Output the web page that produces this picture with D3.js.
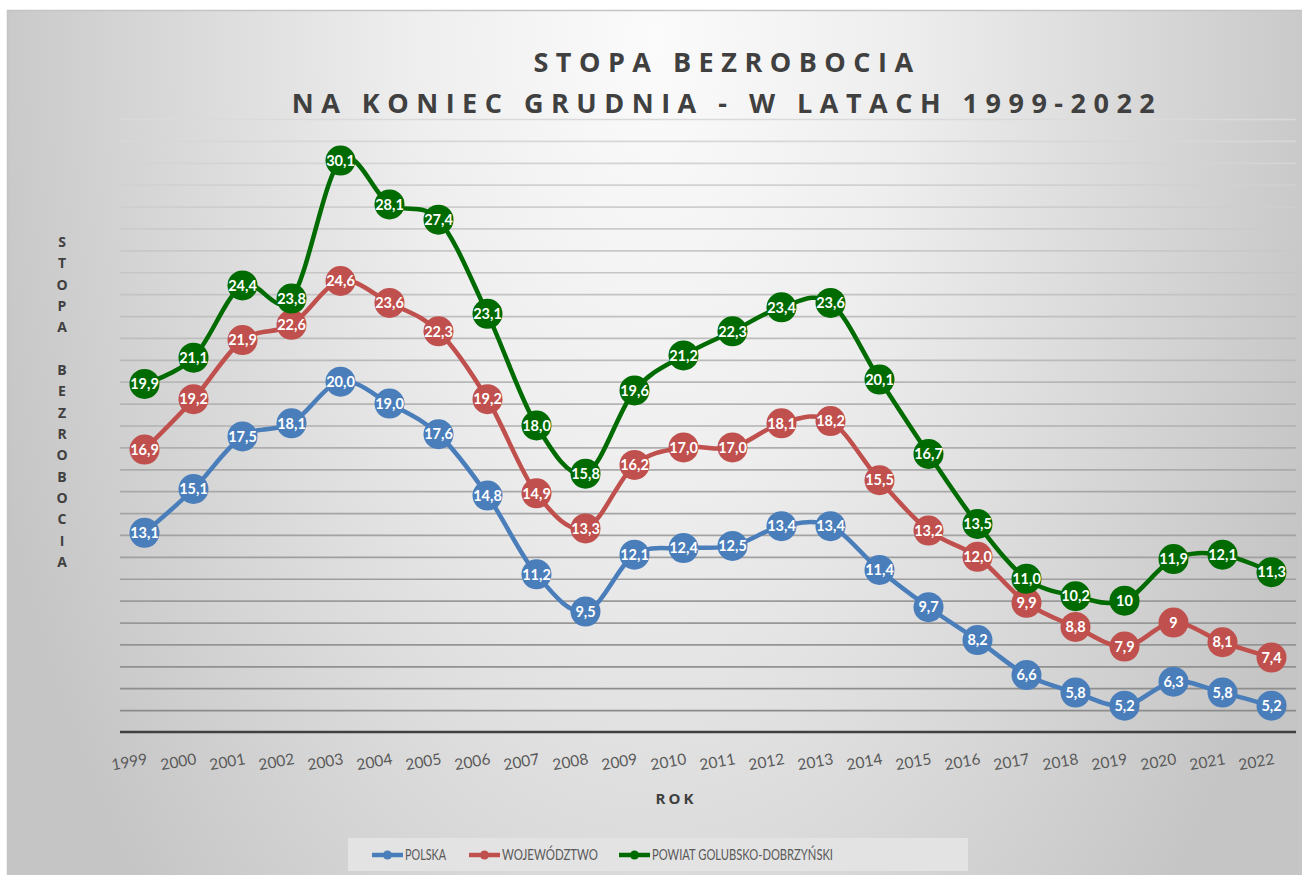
<!DOCTYPE html>
<html>
<head>
<meta charset="utf-8">
<script src="https://cdn.jsdelivr.net/npm/d3@7/dist/d3.min.js"></script>
<style>
  html, body { margin: 0; padding: 0; background: #ffffff; }
  svg { display: block; }
</style>
</head>
<body>
<svg id="chart" width="1302" height="875"></svg>
<script>
// Years on the category axis
const years = ["1999","2000","2001","2002","2003","2004","2005","2006","2007","2008","2009","2010",
               "2011","2012","2013","2014","2015","2016","2017","2018","2019","2020","2021","2022"];

// Unemployment rate (%) at the end of December, written as they are labelled
const polska = ["13,1","15,1","17,5","18,1","20,0","19,0","17,6","14,8","11,2","9,5","12,1","12,4",
                "12,5","13,4","13,4","11,4","9,7","8,2","6,6","5,8","5,2","6,3","5,8","5,2"];
const wojewodztwo = ["16,9","19,2","21,9","22,6","24,6","23,6","22,3","19,2","14,9","13,3","16,2","17,0",
                     "17,0","18,1","18,2","15,5","13,2","12,0","9,9","8,8","7,9","9","8,1","7,4"];
const powiat = ["19,9","21,1","24,4","23,8","30,1","28,1","27,4","23,1","18,0","15,8","19,6","21,2",
                "22,3","23,4","23,6","20,1","16,7","13,5","11,0","10,2","10","11,9","12,1","11,3"];

const seriesNames = ["POLSKA", "WOJEWÓDZTWO", "POWIAT GOLUBSKO-DOBRZYŃSKI"];
const seriesColors = ["#4a7ebb", "#c0504d", "#006b00"];

// Value axis range and gridline step
const yDomain = [4, 32];
const yStep = 1;

const titleLines = ["STOPA BEZROBOCIA", "NA KONIEC GRUDNIA - W LATACH 1999-2022"];
const yTitle = "STOPA BEZROBOCIA";
const xTitle = "ROK";

const parseVal = s => +s.replace(",", ".");
const series = [polska, wojewodztwo, powiat].map((arr, i) => ({
  name: seriesNames[i],
  color: seriesColors[i],
  points: arr.map((s, j) => ({ year: years[j], label: s, value: parseVal(s) }))
}));

const svg = d3.select("#chart");
const W = 1302, H = 875;

// ---- background of the chart area ----
const defs = svg.append("defs");
const bg = defs.append("radialGradient")
  .attr("id", "bgGrad")
  .attr("gradientUnits", "userSpaceOnUse")
  .attr("cx", 655).attr("cy", 40).attr("r", 700)
  .attr("gradientTransform", "translate(655,40) scale(1,1.8) translate(-655,-40)");
bg.append("stop").attr("offset", 0).attr("stop-color", "#fbfbfb");
bg.append("stop").attr("offset", 0.35).attr("stop-color", "#eeeeee");
bg.append("stop").attr("offset", 1).attr("stop-color", "#c5c5c5");

svg.append("rect")
  .attr("x", 7.5).attr("y", 10.5).attr("width", W).attr("height", H)
  .attr("fill", "url(#bgGrad)")
  .attr("stroke", "#c4c4c4").attr("stroke-width", 1.5);

// ---- plot area ----
const plot = { left: 120, right: 1296, top: 119, bottom: 732 };

const x = d3.scalePoint()
  .domain(years)
  .range([plot.left, plot.right])
  .padding(0.5);

const y = d3.scaleLinear()
  .domain(yDomain)
  .range([plot.bottom, plot.top]);

// horizontal gridlines, light near the top and darker towards the axis
const yAxis = d3.axisLeft(y)
  .tickValues(d3.range(yDomain[0] + yStep, yDomain[1] + yStep / 2, yStep))
  .tickSize(-(plot.right - plot.left))
  .tickFormat("");

const gGrid = svg.append("g")
  .attr("transform", `translate(${plot.left},0)`)
  .call(yAxis);
gGrid.select(".domain").remove();
const gridShade = d3.interpolateRgb("#dadada", "#888888");
gGrid.selectAll(".tick line")
  .attr("stroke-width", 1.7)
  .attr("stroke", d => gridShade((y(d) - plot.top) / (plot.bottom - plot.top)));

// category axis
const xAxis = d3.axisBottom(x).tickSize(0).tickPadding(0);
const gX = svg.append("g")
  .attr("transform", `translate(0,${plot.bottom})`)
  .call(xAxis);
gX.select(".domain")
  .attr("d", `M${plot.left},0H${plot.right}`)
  .attr("stroke", "#404040")
  .attr("stroke-width", 2.5);
gX.selectAll(".tick text")
  .attr("font-family", "Lato, 'Open Sans', sans-serif")
  .attr("font-size", 15.5)
  .attr("fill", "#595959")
  .attr("text-anchor", "end")
  .attr("dy", 0)
  .attr("transform", "translate(3,32) rotate(-10)");

// ---- series lines ----
const line = d3.line()
  .x(d => x(d.year))
  .y(d => y(d.value))
  .curve(d3.curveCatmullRom.alpha(0));

const gSeries = svg.append("g");
series.forEach(s => {
  gSeries.append("path")
    .datum(s.points)
    .attr("fill", "none")
    .attr("stroke", s.color)
    .attr("stroke-width", 4.5)
    .attr("stroke-linejoin", "round")
    .attr("d", line);
});

// markers with value labels
series.forEach(s => {
  const g = gSeries.append("g");
  const m = g.selectAll("g.m")
    .data(s.points)
    .join("g")
    .attr("class", "m")
    .attr("transform", d => `translate(${x(d.year)},${y(d.value)})`);
  m.append("circle")
    .attr("r", 15)
    .attr("fill", s.color);
  m.append("text")
    .text(d => d.label)
    .attr("text-anchor", "middle")
    .attr("dy", "0.36em")
    .attr("font-family", "Lato, 'Open Sans', sans-serif")
    .attr("font-weight", "bold")
    .attr("font-size", 14.5)
    .attr("fill", "#ffffff");
});

// ---- titles ----
const title = svg.append("text")
  .attr("text-anchor", "middle")
  .attr("font-family", "'Open Sans', sans-serif")
  .attr("font-weight", "bold")
  .attr("font-size", 27)
  .attr("fill", "#404040")
  .attr("letter-spacing", 7.5);
title.selectAll("tspan")
  .data(titleLines)
  .join("tspan")
  .attr("x", 727)
  .attr("y", (d, i) => 72 + i * 41)
  .text(d => d);

// vertical axis title: letters stacked one under another
const yt = svg.append("text")
  .attr("text-anchor", "middle")
  .attr("font-family", "'Open Sans', sans-serif")
  .attr("font-weight", "bold")
  .attr("font-size", 14)
  .attr("fill", "#404040");
yt.selectAll("tspan")
  .data(yTitle.split(""))
  .join("tspan")
  .attr("x", 62)
  .attr("y", (d, i) => 247 + i * 21.33)
  .text(d => d === " " ? "\u00a0" : d);

svg.append("text")
  .attr("x", 676).attr("y", 804)
  .attr("text-anchor", "middle")
  .attr("font-family", "'Open Sans', sans-serif")
  .attr("font-weight", "bold")
  .attr("font-size", 15)
  .attr("letter-spacing", 3)
  .attr("fill", "#404040")
  .text(xTitle);

// ---- legend ----
const legend = svg.append("g");
legend.append("rect")
  .attr("x", 348).attr("y", 838).attr("width", 620).attr("height", 33)
  .attr("fill", "#e3e3e3");

const legendX = [372, 469, 619];
const legendTextWidth = [41, 96, 181];
series.forEach((s, i) => {
  const g = legend.append("g").attr("transform", `translate(${legendX[i]},855)`);
  g.append("line")
    .attr("x1", 0).attr("x2", 31)
    .attr("stroke", s.color).attr("stroke-width", 4.5);
  g.append("circle").attr("cx", 15.5).attr("r", 4.5).attr("fill", s.color);
  g.append("text")
    .attr("x", 33).attr("dy", "0.35em")
    .attr("font-family", "Lato, 'Open Sans', sans-serif")
    .attr("font-size", 15)
    .attr("fill", "#595959")
    .attr("textLength", legendTextWidth[i])
    .attr("lengthAdjust", "spacingAndGlyphs")
    .text(s.name);
});
</script>
</body>
</html>
